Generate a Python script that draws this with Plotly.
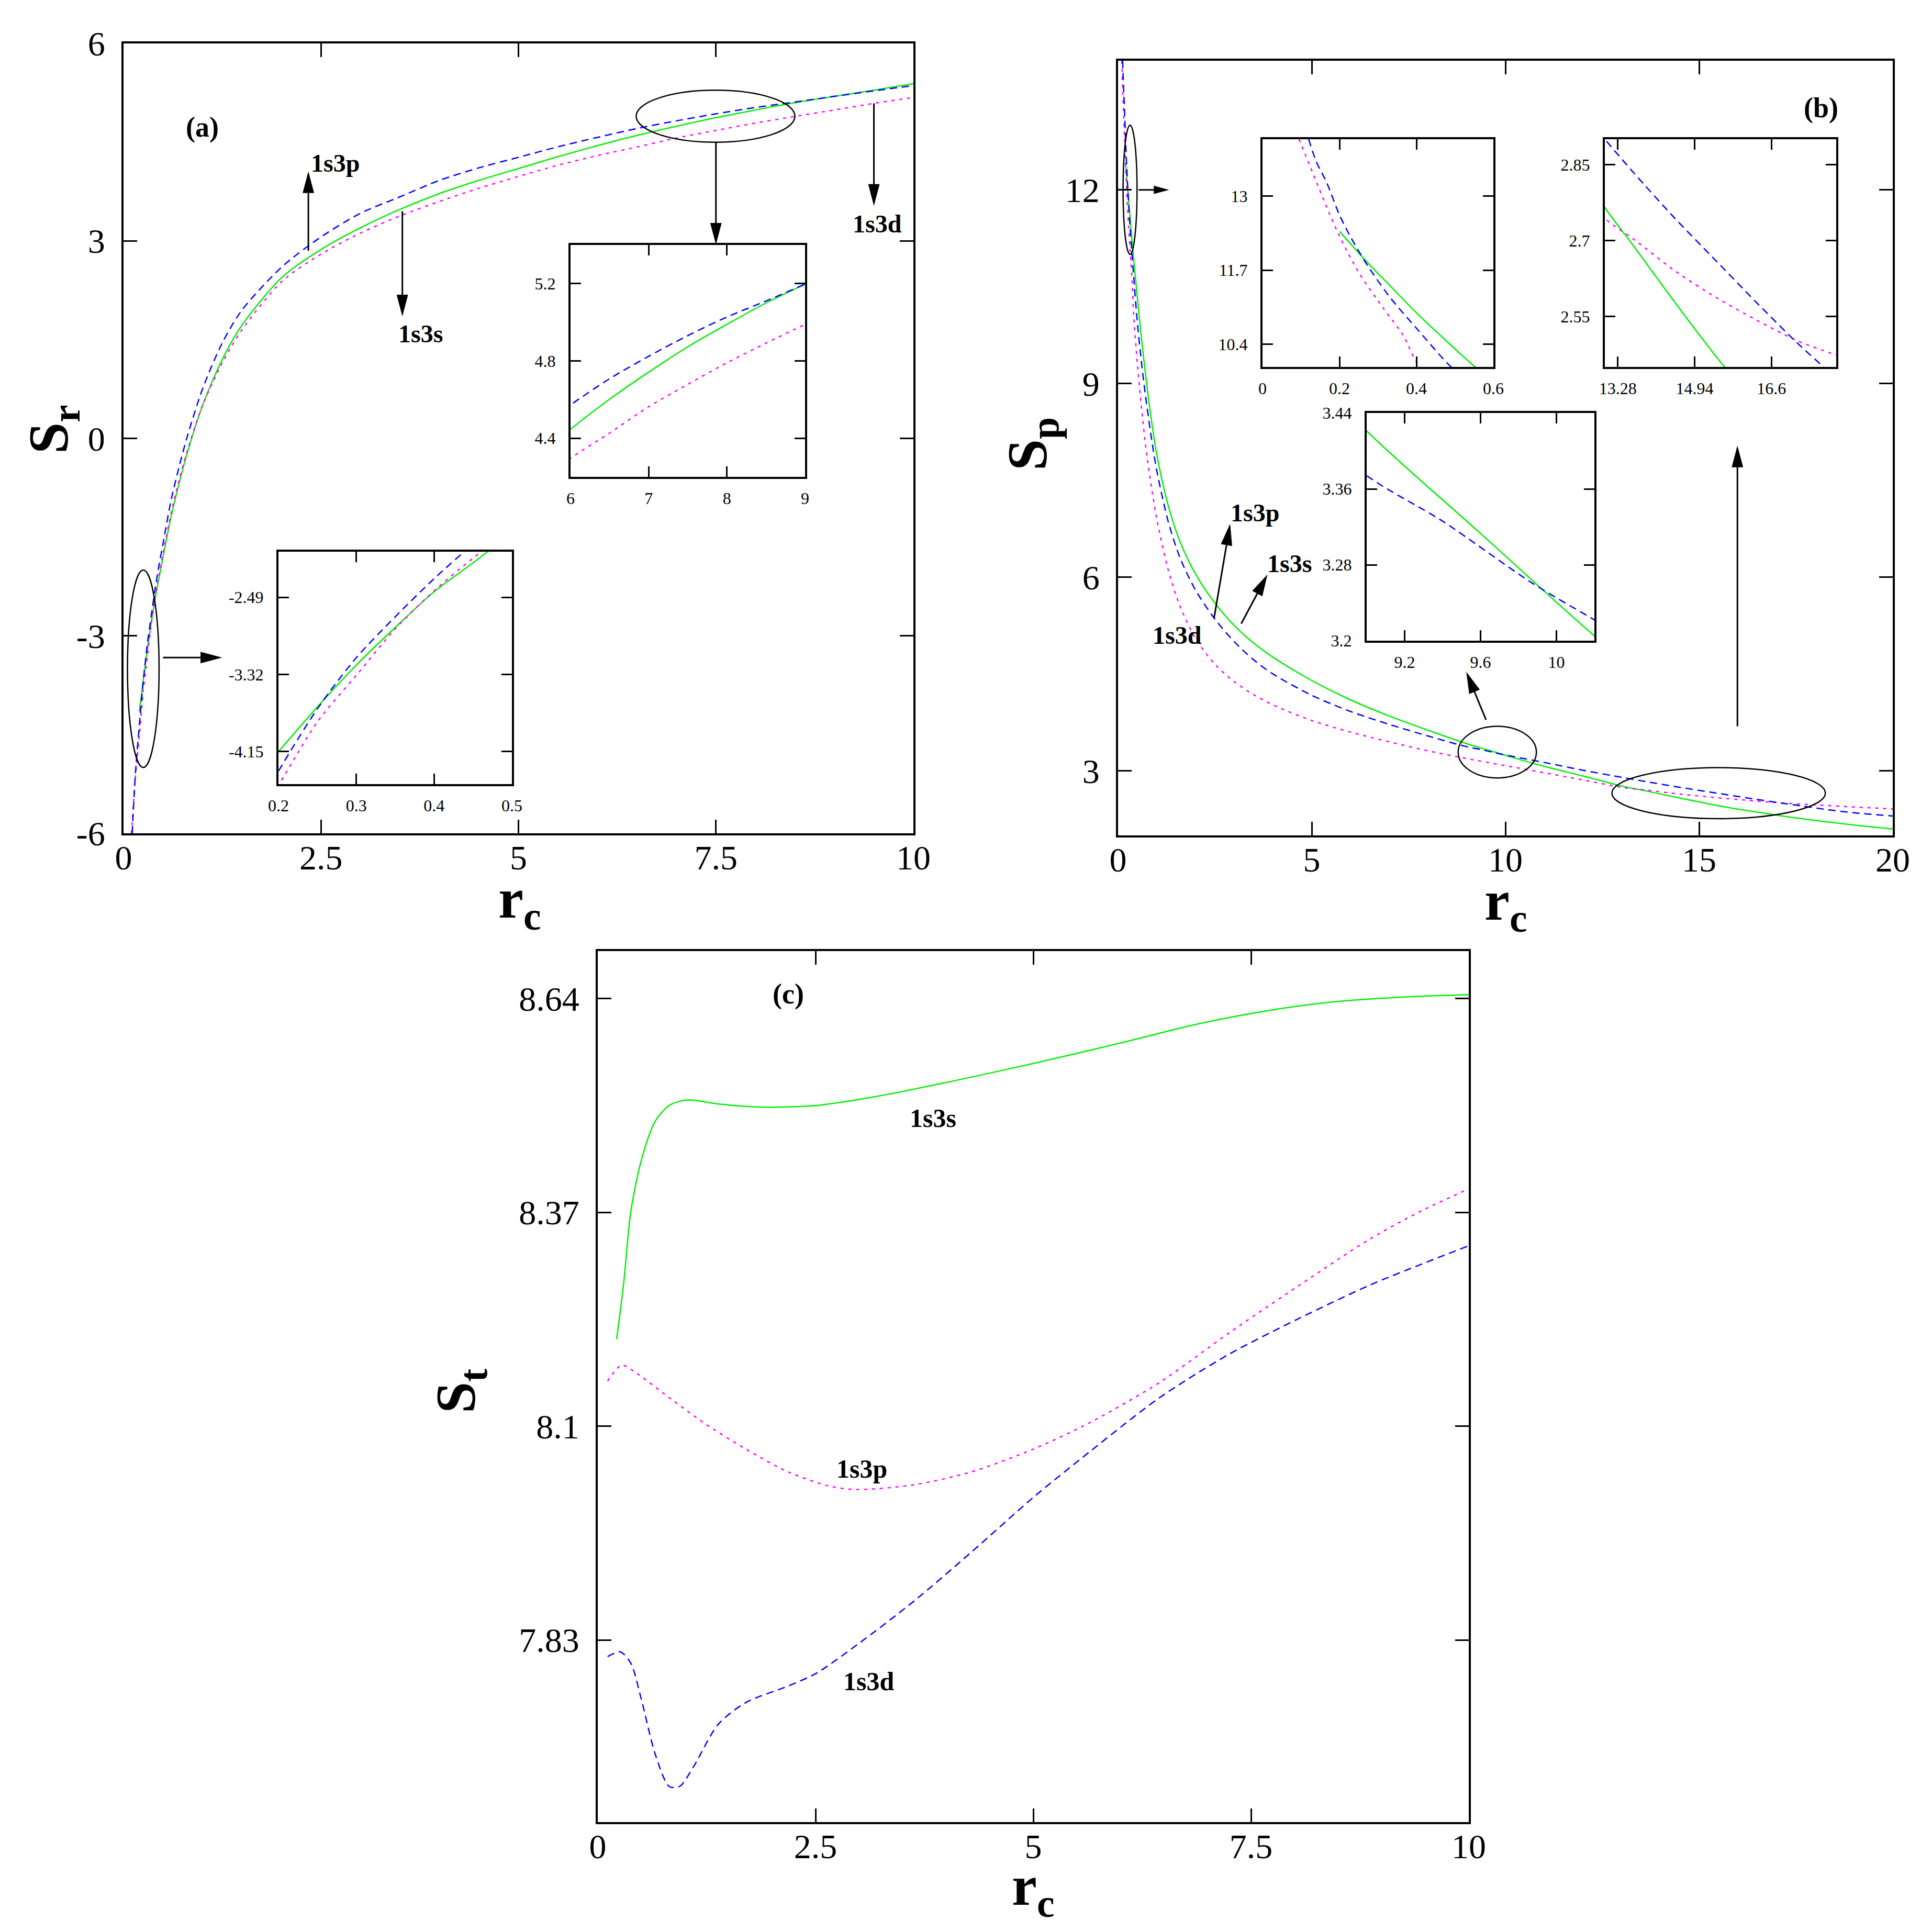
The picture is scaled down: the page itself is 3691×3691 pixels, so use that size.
import math
import plotly.graph_objects as go

SERIF = "Liberation Serif"
GREEN, BLUE, MAGENTA = "#00ee00", "#0000ff", "#ff00ff"
W = H = 3691

# ---- panel (a): S_r vs r_c ----
a_green_x = [0.2, 0.25, 0.3, 0.35, 0.4, 0.45, 0.5, 0.6, 0.7, 0.8, 1.0, 1.25, 1.5, 2.0, 2.5, 3.0,
             3.5, 4.0, 4.5, 5.0, 5.5, 6.0, 6.5, 7.0, 7.5, 8.0, 8.5, 9.0, 9.5, 10.0]
a_green_y = [-4.15, -3.67, -3.22, -2.815, -2.43, -2.12, -1.8, -1.2, -0.7, -0.25, 0.5, 1.2, 1.72,
             2.44, 2.87, 3.2, 3.48, 3.72, 3.92, 4.1, 4.28, 4.447, 4.602, 4.742, 4.873, 4.989,
             5.10, 5.197, 5.29, 5.39]
a_blue_x = [0.11, 0.15, 0.2, 0.25, 0.3, 0.35, 0.4, 0.45, 0.5, 0.6, 0.7, 0.8, 1.0, 1.25, 1.5, 2.0,
            2.5, 3.0, 3.5, 4.0, 4.5, 5.0, 5.5, 6.0, 6.5, 7.0, 7.5, 8.0, 8.5, 9.0, 9.5, 10.0]
a_blue_y = [-6.0, -5.1, -4.36, -3.69, -3.14, -2.70, -2.29, -1.92, -1.6, -0.95, -0.45, 0.0, 0.75,
            1.45, 1.95, 2.6, 3.06, 3.42, 3.67, 3.92, 4.11, 4.27, 4.43, 4.573, 4.708, 4.824, 4.931,
            5.027, 5.11, 5.197, 5.28, 5.36]
a_mag_x = [0.1, 0.15, 0.2, 0.25, 0.3, 0.35, 0.4, 0.45, 0.5, 0.6, 0.7, 0.8, 1.0, 1.25, 1.5, 2.0,
           2.5, 3.0, 3.5, 4.0, 4.5, 5.0, 5.5, 6.0, 6.5, 7.0, 7.5, 8.0, 8.5, 9.0, 9.5, 10.0]
a_mag_y = [-6.0, -5.15, -4.51, -3.83, -3.33, -2.83, -2.42, -2.07, -1.75, -1.15, -0.65, -0.22, 0.5,
           1.15, 1.65, 2.38, 2.8, 3.12, 3.38, 3.6, 3.8, 3.98, 4.15, 4.297, 4.427, 4.563, 4.679,
           4.79, 4.892, 4.989, 5.09, 5.18]

# ---- panel (b): S_p vs r_c ----
b_green_x = [0.2, 0.276, 0.334, 0.4, 0.482, 0.549, 0.65, 0.8, 1.0, 1.3, 1.6, 2.0, 2.5, 3.0, 3.5,
             4.0, 5.0, 6.0, 7.0, 8.0, 9.0, 9.6, 10.2, 11.0, 12.0, 13.0, 13.63, 14.51, 15.57,
             16.5, 17.5, 18.3, 19.0, 20.0]
b_green_y = [12.38, 11.81, 11.41, 10.95, 10.43, 10.02, 9.45, 8.7, 7.9, 7.1, 6.55, 6.05, 5.6, 5.25,
             4.98, 4.76, 4.4, 4.1, 3.85, 3.63, 3.421, 3.313, 3.205, 3.07, 2.92, 2.765, 2.688,
             2.578, 2.452, 2.36, 2.27, 2.21, 2.16, 2.10]
b_blue_x = [0.12, 0.14, 0.166, 0.2, 0.23, 0.276, 0.334, 0.4, 0.487, 0.6, 0.7, 0.85, 1.0, 1.3, 1.6,
            2.0, 2.5, 3.0, 3.5, 4.0, 5.0, 6.0, 7.0, 8.0, 9.0, 9.4, 9.87, 10.2, 11.0, 12.0, 13.0,
            13.63, 14.51, 15.39, 16.27, 17.15, 17.7, 18.3, 19.0, 20.0]
b_blue_y = [14.0, 13.6, 13.25, 12.67, 12.27, 11.75, 11.2, 10.68, 10.02, 9.35, 8.85, 8.2, 7.65,
            6.85, 6.3, 5.8, 5.35, 5.0, 4.72, 4.5, 4.17, 3.92, 3.72, 3.54, 3.374, 3.326, 3.261,
            3.222, 3.13, 3.01, 2.90, 2.833, 2.744, 2.661, 2.578, 2.498, 2.452, 2.40, 2.35, 2.30]
b_mag_x = [0.095, 0.134, 0.166, 0.2, 0.25, 0.313, 0.366, 0.4, 0.5, 0.6, 0.75, 1.0, 1.3, 1.6, 2.0,
           2.5, 3.0, 3.5, 4.0, 5.0, 6.0, 7.0, 8.0, 9.0, 10.0, 11.0, 12.0, 13.0, 13.63, 14.51,
           15.39, 16.27, 17.15, 17.98, 19.0, 20.0]
b_mag_y = [14.0, 13.35, 12.82, 12.3, 11.66, 11.04, 10.55, 10.09, 9.3, 8.65, 7.85, 6.9, 6.1, 5.55,
           5.05, 4.65, 4.38, 4.18, 4.02, 3.78, 3.6, 3.45, 3.31, 3.19, 3.08, 2.97, 2.86, 2.744,
           2.702, 2.64, 2.588, 2.543, 2.502, 2.474, 2.44, 2.41]

# ---- panel (c): S_t vs r_c ----
c_green_x = [0.217, 0.297, 0.378, 0.498, 0.659, 0.82, 1.02, 1.38, 1.865, 2.51, 3.23, 4.04, 5.0,
             6.04, 6.85, 7.65, 8.46, 9.26, 10.0]
c_green_y = [8.210, 8.28, 8.370, 8.435, 8.485, 8.505, 8.512, 8.507, 8.503, 8.505, 8.517, 8.535,
             8.558, 8.585, 8.607, 8.624, 8.636, 8.642, 8.645]
c_mag_x = [0.113, 0.273, 0.418, 0.82, 1.22, 1.70, 2.19, 2.67, 2.99, 3.63, 4.28, 5.0, 5.64, 6.447,
           7.251, 8.055, 8.859, 9.421, 9.984]
c_mag_y = [8.157, 8.177, 8.169, 8.136, 8.104, 8.071, 8.042, 8.024, 8.020, 8.026, 8.042, 8.071,
           8.104, 8.155, 8.218, 8.278, 8.336, 8.370, 8.399]
c_blue_x = [0.113, 0.257, 0.378, 0.498, 0.659, 0.82, 0.94, 1.10, 1.38, 1.70, 2.19, 2.51, 2.99,
            3.63, 4.28, 5.0, 5.64, 6.45, 7.25, 8.05, 8.86, 9.42, 9.98]
c_blue_y = [7.809, 7.815, 7.801, 7.756, 7.686, 7.645, 7.645, 7.670, 7.723, 7.751, 7.772, 7.788,
            7.825, 7.879, 7.940, 8.010, 8.067, 8.136, 8.191, 8.236, 8.278, 8.303, 8.327]

# tick labels
a_xticks = [0, 2.5, 5, 7.5, 10]
a_yticks = [-6, -3, 0, 3, 6]
b_xticks = [0, 5, 10, 15, 20]
b_yticks = [3, 6, 9, 12]
c_xticks = [0, 2.5, 5, 7.5, 10]
c_yticks = [7.83, 8.1, 8.37, 8.64]
a1_xticks, a1_yticks = [0.2, 0.3, 0.4, 0.5], [-4.15, -3.32, -2.49]
a2_xticks, a2_yticks = [6, 7, 8, 9], [4.4, 4.8, 5.2]
b1_xticks, b1_yticks = [0, 0.2, 0.4, 0.6], [10.4, 11.7, 13]
b2_xticks, b2_yticks = [13.28, 14.94, 16.6], [2.55, 2.7, 2.85]
b3_xticks, b3_yticks = [9.2, 9.6, 10], [3.2, 3.28, 3.36, 3.44]

# pixel boxes (left, top, right, bottom) and data ranges of every frame
frames = {
    "":  ((228, 75, 1737, 1584), (0, 10), (-6, 6)),
    "2": ((2128, 108, 3608, 1588), (0, 20), (2, 14)),
    "3": ((1134, 1809, 2798, 3473), (0, 10), (7.6, 8.7)),
    "4": ((524, 1046, 970, 1490), (0.2, 0.5), (-4.5, -2.0)),
    "5": ((1082, 460, 1530, 903), (6, 9), (4.2, 5.4)),
    "6": ((2404, 258, 2845, 693), (0, 0.6), (10, 14)),
    "7": ((3058, 258, 3500, 693), (13, 18), (2.45, 2.9)),
    "8": ((2603, 781, 3038, 1216), (9.0, 10.2), (3.2, 3.44)),
}
ticks = {"": (a_xticks, a_yticks), "2": (b_xticks, b_yticks), "3": (c_xticks, c_yticks),
         "4": (a1_xticks, a1_yticks), "5": (a2_xticks, a2_yticks), "6": (b1_xticks, b1_yticks),
         "7": (b2_xticks, b2_yticks), "8": (b3_xticks, b3_yticks)}


def axis(domain, rng, tv, anchor, size, ticklen, standoff):
    return dict(domain=domain, range=list(rng), tickvals=tv, ticktext=[f"{t:g}" for t in tv],
                anchor=anchor, showline=True, linecolor="black", linewidth=4, mirror="ticks",
                ticks="inside", ticklen=ticklen, tickwidth=3, tickcolor="black",
                showgrid=False, zeroline=False, automargin=False, ticklabelstandoff=standoff,
                tickfont=dict(family=SERIF, size=size, color="black"))


fig = go.Figure()

layout = {}
for n, (box, xr, yr) in frames.items():
    l, t, r, b = box
    main = n in ("", "2", "3")
    size, tl = (66, 26) if main else (32, 20)
    layout["xaxis" + n] = axis([l / W, r / W], xr, ticks[n][0], "y" + n, size, tl,
                               -14 if main else 10)
    layout["yaxis" + n] = axis([1 - b / H, 1 - t / H], yr, ticks[n][1], "x" + n, size, tl,
                               18 if main else 18)

sets = {"a": ((a_green_x, a_green_y), (a_blue_x, a_blue_y), (a_mag_x, a_mag_y)),
        "b": ((b_green_x, b_green_y), (b_blue_x, b_blue_y), (b_mag_x, b_mag_y)),
        "c": ((c_green_x, c_green_y), (c_blue_x, c_blue_y), (c_mag_x, c_mag_y))}
which = {"": "a", "2": "b", "3": "c", "4": "a", "5": "a", "6": "b", "7": "b", "8": "b"}
for n, key in which.items():
    g, b, m = sets[key]
    ax, ay = "x" + n, "y" + n
    common = dict(mode="lines", xaxis=ax, yaxis=ay, line_shape="spline")
    fig.add_trace(go.Scatter(x=g[0], y=g[1], line=dict(color=GREEN, width=2.5, smoothing=0.8),
                             **common))
    fig.add_trace(go.Scatter(x=m[0], y=m[1], **common,
                             line=dict(color=MAGENTA, width=2.5, dash="6px,9px", smoothing=0.8)))
    fig.add_trace(go.Scatter(x=b[0], y=b[1], **common,
                             line=dict(color=BLUE, width=2.5, dash="14px,9px", smoothing=0.8)))

fig.update_layout(**layout)


def to_px(n, x, y):
    (l, t, r, b), (x0, x1), (y0, y1) = frames[n]
    return l + (x - x0) / (x1 - x0) * (r - l), b - (y - y0) / (y1 - y0) * (b - t)


def to_data(n, px, py):
    (l, t, r, b), (x0, x1), (y0, y1) = frames[n]
    return x0 + (px - l) / (r - l) * (x1 - x0), y0 + (b - py) / (b - t) * (y1 - y0)


def ellipse(n, x0, x1, y0, y1):
    fig.add_shape(type="circle", xref="x" + n, yref="y" + n, x0=x0, x1=x1, y0=y0, y1=y1,
                  line=dict(color="black", width=2.5))


def arrow(n, tail, head, hl=34, hw=9):
    # straight shaft plus a narrow head, built in pixel space
    tx, ty = to_px(n, *tail)
    hx, hy = to_px(n, *head)
    d = math.hypot(hx - tx, hy - ty)
    ux, uy = (hx - tx) / d, (hy - ty) / d
    bx, by = hx - ux * hl, hy - uy * hl
    p1 = to_data(n, bx - uy * hw, by + ux * hw)
    p2 = to_data(n, bx + uy * hw, by - ux * hw)
    line = dict(color="black", width=3)
    fig.add_shape(type="line", xref="x" + n, yref="y" + n, x0=tail[0], y0=tail[1],
                  x1=head[0], y1=head[1], line=line)
    fig.add_shape(type="path", xref="x" + n, yref="y" + n, line=line, fillcolor="black",
                  path=f"M {p1[0]},{p1[1]} L {head[0]},{head[1]} L {p2[0]},{p2[1]} Z")


def label(n, x, y, text, size=50):
    fig.add_annotation(xref="x" + n, yref="y" + n, x=x, y=y, text=f"<b>{text}</b>",
                       showarrow=False, font=dict(family=SERIF, size=size, color="black"))


# panel (a) decorations
ellipse("", 6.49, 8.5, 4.5, 5.29)
ellipse("", 0.05, 0.45, -5.0, -2.0)
arrow("", (0.5, -3.33), (1.21, -3.33))
arrow("", (7.5, 4.5), (7.5, 2.99))
arrow("", (2.34, 2.85), (2.34, 4.01))
arrow("", (3.53, 3.45), (3.53, 1.9))
arrow("", (9.5, 5.09), (9.5, 3.58))
label("", 1.0, 4.73, "(a)", 54)
label("", 2.68, 4.18, "1s3p", 48)
label("", 3.76, 1.59, "1s3s", 48)
label("", 9.54, 3.26, "1s3d", 48)

# panel (b) decorations
ellipse("2", 0.13, 0.49, 11.0, 13.0)
ellipse("2", 8.78, 10.8, 2.89, 3.69)
ellipse("2", 12.75, 18.26, 2.26, 3.05)
arrow("2", (0.53, 12.0), (1.24, 12.0), hl=22, hw=6)
arrow("2", (2.48, 5.37), (2.88, 6.78))
arrow("2", (3.18, 5.28), (3.82, 6.0))
arrow("2", (9.5, 3.79), (9.02, 4.49))
arrow("2", (15.99, 3.69), (15.99, 7.99))
label("2", 18.15, 13.27, "(b)", 54)
label("2", 3.54, 7.0, "1s3p", 48)
label("2", 4.42, 6.21, "1s3s", 48)
label("2", 1.53, 5.1, "1s3d", 48)

# panel (c) decorations
label("3", 2.19, 8.646, "(c)", 54)
label("3", 3.85, 8.489, "1s3s", 50)
label("3", 3.03, 8.046, "1s3p", 50)
label("3", 3.11, 7.778, "1s3d", 50)

# axis titles
titles = [(92, 812, "S<sub>r</sub>", -90), (985, 1716, "r<sub>c</sub>", 0),
          (1962, 840, "S<sub>p</sub>", -90), (2869, 1720, "r<sub>c</sub>", 0),
          (870, 2650, "S<sub>t</sub>", -90), (1966, 3602, "r<sub>c</sub>", 0)]
for px, py, t, ang in titles:
    fig.add_annotation(xref="paper", yref="paper", x=px / W, y=1 - py / H, text=f"<b>{t}</b>",
                       showarrow=False, textangle=ang, xanchor="center", yanchor="middle",
                       font=dict(family=SERIF, size=108, color="black"))

fig.update_layout(width=W, height=H, margin=dict(l=0, r=0, t=0, b=0, pad=0), showlegend=False,
                  template="none", paper_bgcolor="white", plot_bgcolor="white")

fig.write_html("out.html")
